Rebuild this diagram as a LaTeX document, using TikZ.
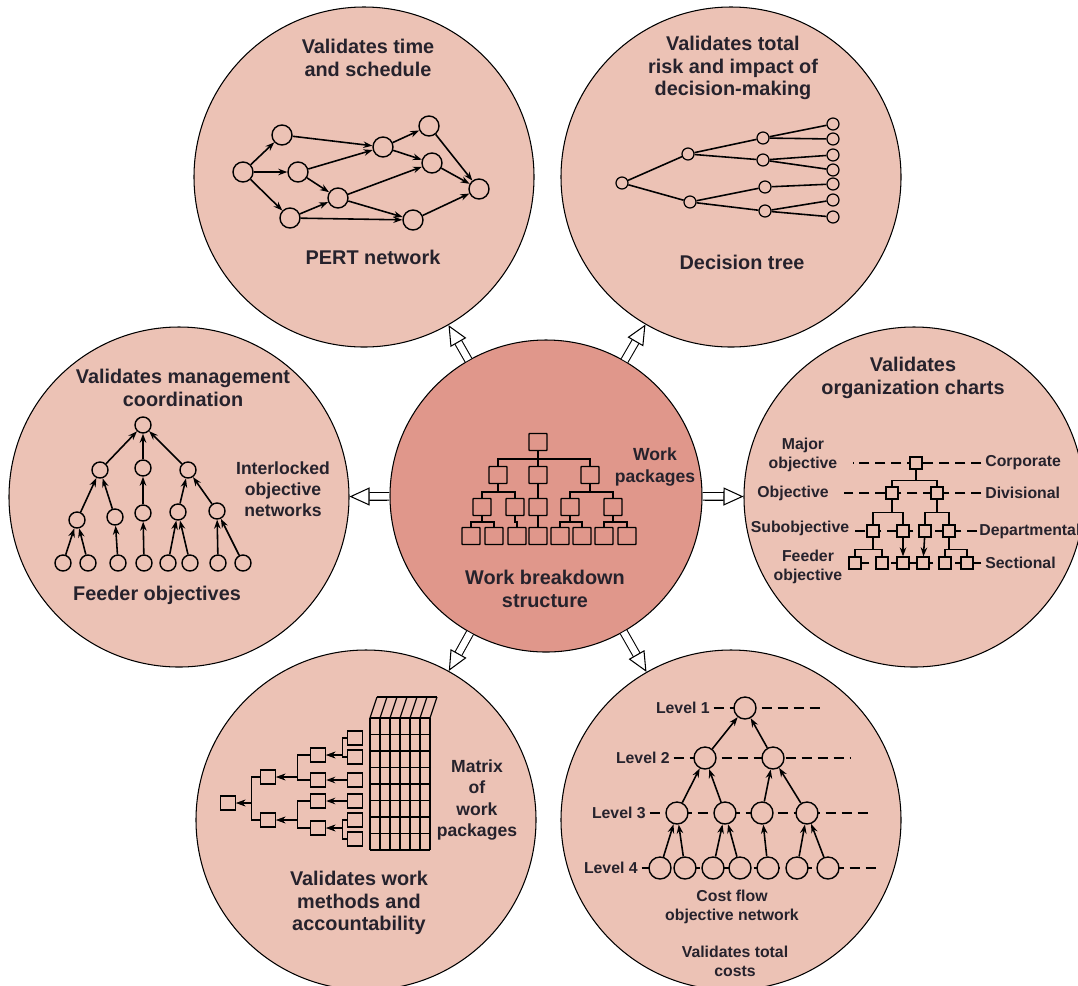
\documentclass[tikz,border=0pt]{standalone}
\usepackage{fontspec}
\setmainfont{Liberation Sans}
\usepackage{xcolor}
\usepackage{tikz}
\usetikzlibrary{arrows.meta,positioning,calc}

\definecolor{bubble}{RGB}{236,194,181}
\definecolor{wbscol}{RGB}{224,151,139}
\definecolor{ink}{RGB}{38,34,44}

\tikzset{
  bub/.style={circle, draw, line width=0.6pt, fill=bubble, minimum size=68mm, inner sep=0pt},
  ttl/.style={align=center, text=ink, inner sep=0pt, font=\bfseries\fontsize{11.3}{12.8}\selectfont},
  mid/.style={align=center, text=ink, inner sep=0pt, font=\bfseries\fontsize{10}{12}\selectfont},
  sml/.style={align=center, text=ink, inner sep=0pt, font=\bfseries\fontsize{9}{11}\selectfont},
  ln/.style={line width=0.9pt},
  arr/.style={line width=0.9pt, -{Stealth[length=1.8mm, width=1.3mm]}},
  lvl/.style={line width=0.8pt, dash pattern=on 2mm off 1.2mm},
  hollow/.style={double=white, double distance=1.3mm, line width=0.6pt, -{Triangle[open, length=4mm, width=3.6mm]}},
  pn/.style={circle, draw, line width=0.8pt, fill=bubble, minimum size=4mm, inner sep=0pt},
  dn/.style={circle, draw, line width=0.7pt, fill=bubble, minimum size=2.4mm, inner sep=0pt},
  mn/.style={circle, draw, line width=0.8pt, fill=bubble, minimum size=3.2mm, inner sep=0pt},
  cn/.style={circle, draw, line width=0.8pt, fill=bubble, minimum size=4.4mm, inner sep=0pt},
  wb/.style={rectangle, rounded corners=0.4pt, draw, line width=0.8pt, fill=wbscol, minimum width=3.6mm, minimum height=3.4mm, inner sep=0pt},
  ob/.style={rectangle, draw, line width=0.7pt, fill=bubble, minimum size=2.4mm, inner sep=0pt},
  xb/.style={rectangle, draw, line width=0.8pt, fill=bubble, minimum width=3mm, minimum height=2.8mm, inner sep=0pt}
}

\begin{document}
\begin{tikzpicture}[x=0.2mm, y=-0.2mm]
\useasboundingbox (0,0) rectangle (1078,985);
\fill[white] (0,0) rectangle (1078,985);

% the seven circles
\node[bub, fill=wbscol, minimum size=62.4mm] (wbs) at (546,496) {};
\node[bub] (pert) at (364,177) {};
\node[bub] (dtree) at (731,177) {};
\node[bub] (mgmt) at (179,497) {};
\node[bub] (org) at (914,497) {};
\node[bub] (wpm) at (366,820) {};
\node[bub] (cost) at (731,820) {};

\foreach \t in {pert,dtree,mgmt,org,wpm,cost}
  \draw[hollow] (wbs) -- (\t);

% PERT network
\node[ttl] (pertT) at (368,58) {Validates time\\and schedule};
\foreach \n/\px/\py in {a/243/172, b/282/135, c/298/172, d/290/218, e/338/198,
    f/383/147, g/429/126, h/432/163, i/413/220, j/479/189}
  \node[pn] (p\n) at (\px,\py) {};
\foreach \s/\t in {a/b, a/c, a/d, b/f, c/f, c/e, d/e, d/i, e/h, e/i, f/g, f/h, g/j, h/j, i/j}
  \draw[arr] (p\s) -- (p\t);
\node[ttl] (pertC) at (373,257) {PERT network};

% decision tree
\node[ttl] (dtreeT) at (733,68) {Validates total\\risk and impact of\\decision-making};
\foreach \n/\px/\py in {r/622/183, a/688/154, b/690/202, aa/763/138, ab/763/160, ba/765/187, bb/765/211}
  \node[dn] (d\n) at (\px,\py) {};
\foreach \i/\py in {1/124, 2/139, 3/155, 4/170, 5/184, 6/200, 7/217}
  \node[dn] (dl\i) at (833,\py) {};
\foreach \s/\t in {r/a, r/b, a/aa, a/ab, b/ba, b/bb, aa/l1, aa/l2, ab/l3, ab/l4, ba/l5, bb/l6, bb/l7}
  \draw[ln] (d\s) -- (d\t);
\node[ttl] (dtreeC) at (742,262) {Decision tree};

% management coordination
\node[ttl] (mgmtT) at (183,388) {Validates management\\coordination};
\foreach \n/\px/\py in {m0/143/425, m1/100/470, m2/143/468, m3/188/470, m11/77/520, m12/115/517,
    m21/143/513, m31/178/512, m32/217/511}
  \node[mn] (\n) at (\px,\py) {};
\foreach \i/\px in {1/63, 2/88, 3/118, 4/144, 5/168, 6/190, 7/218, 8/243}
  \node[mn] (f\i) at (\px,563) {};
\foreach \s/\t in {m1/m0, m2/m0, m3/m0, m11/m1, m12/m1, m21/m2, m31/m3, m32/m3,
    f1/m11, f2/m11, f3/m12, f4/m21, f5/m31, f6/m31, f7/m32, f8/m32}
  \draw[arr] (\s) -- (\t);
\node[mid] (mgmtN) at (283,489) {Interlocked\\objective\\networks};
\node[ttl] (mgmtC) at (157,595) {Feeder objectives};

% work breakdown structure
\foreach \n/\px/\py in {w0/538/442, w1/498/475, w2/538/475, w3/590/475, w11/482/507, w12/515/507,
    w21/538/507, w31/570/507, w32/613/507}
  \node[wb] (\n) at (\px,\py) {};
\foreach \i/\px in {1/471, 2/494, 3/517, 4/538, 5/560, 6/582, 7/604, 8/627}
  \node[wb] (k\i) at (\px,536) {};
\foreach \p/\c/\h in {w0/w1/8, w0/w2/8, w0/w3/8, w1/w11/7.5, w1/w12/7.5, w2/w21/7.5, w3/w31/7.5, w3/w32/7.5,
    w11/k1/6, w11/k2/6, w12/k3/6, w21/k4/6, w31/k5/6, w31/k6/6, w32/k7/6, w32/k8/6}
  \draw[ln] (\p.south) -- ++(0,\h) -| (\c.north);
\node[mid] (wbsN) at (655,467) {Work\\packages};
\node[ttl] (wbsT) at (545,589) {Work breakdown\\structure};

% organization charts
\node[ttl] (orgT) at (913,378) {Validates\\organization charts};
\node[sml] (majL) at (803,455) {Major\\objective};
\node[sml] (objL) at (793,493) {Objective};
\node[sml] (subL) at (800,528) {Subobjective};
\node[sml] (feedL) at (808,567) {Feeder\\objective};
\node[sml, anchor=west] (corpL) at (985,463) {Corporate};
\node[sml, anchor=west] (divL) at (985,493) {Divisional};
\node[sml, anchor=west] (depL) at (979,531) {Departmental};
\node[sml, anchor=west] (secL) at (985,563) {Sectional};
\draw[lvl, shorten <=2pt, shorten >=3mm] (corpL.west) -- (corpL.west -| majL.east);
\draw[lvl, shorten <=2pt, shorten >=3mm] (divL.west) -- (divL.west -| objL.east);
\draw[lvl, shorten <=1pt, shorten >=1pt] (depL.west) -- (depL.west -| subL.east);
\draw[lvl, shorten <=2pt, shorten >=1.5mm] (secL.west) -- (secL.west -| feedL.east);
\foreach \n/\px/\py in {o0/916/463, o1/892/493, o2/937/493, o11/873/531, o12/903/531, o21/925/531, o22/949/531}
  \node[ob] (\n) at (\px,\py) {};
\foreach \i/\px in {1/855, 2/882, 3/903, 4/923, 5/945, 6/967}
  \node[ob] (s\i) at (\px,563) {};
\foreach \p/\c/\h in {o0/o1/11, o0/o2/11, o1/o11/13, o1/o12/13, o2/o21/13, o2/o22/13,
    o11/s1/12, o11/s2/12, o22/s5/12, o22/s6/12}
  \draw[ln] (\p.south) -- ++(0,\h) -| (\c.north);
\draw[arr] (o12) -- (s3);
\draw[arr] (o21) -- (s4);

% matrix of work packages
\foreach \n/\px/\py in {x0/228/803, x1/268/777, x2/268/820, x11/318/755, x12/318/780, x21/318/801, x22/318/828}
  \node[xb] (\n) at (\px,\py) {};
\foreach \i/\py in {1/738, 2/757, 3/780, 4/801, 5/820, 6/839}
  \node[xb] (q\i) at (355,\py) {};
\foreach \c/\p/\h in {x1/x0/8.5, x2/x0/8.5, x11/x1/12.5, x12/x1/12.5, x21/x2/12.5, x22/x2/12.5,
    q1/x11/4.5, q2/x11/4.5, q3/x12/4.5, q4/x21/4.5, q5/x22/4.5, q6/x22/4.5}
  \draw[arr] (\c.west) -- ++(-\h,0) |- (\p.east);
\foreach \i in {0,...,6} {
  \draw[line width=0.7pt] (370+10*\i,718) -- (370+10*\i,850);
  \draw[line width=0.7pt] (370+10*\i,718) -- (377+10*\i,697);
}
\foreach \j in {0,...,8}
  \draw[line width=0.7pt] (370,718+16.5*\j) -- (430,718+16.5*\j);
\draw[line width=0.7pt] (377,697) -- (437,697);
\node[mid] (wpmN) at (477,800) {Matrix\\of\\work\\packages};
\node[ttl] (wpmT) at (359,903) {Validates work\\methods and\\accountability};

% cost flow objective network
\node[sml, anchor=east] (lv1) at (710,708) {Level 1};
\node[sml, anchor=east] (lv2) at (670,758) {Level 2};
\node[sml, anchor=east] (lv3) at (646,813) {Level 3};
\node[sml, anchor=east] (lv4) at (638,868) {Level 4};
\coordinate (e1) at (820,708);
\coordinate (e2) at (850,758);
\coordinate (e3) at (872,813);
\coordinate (e4) at (880,868);
\foreach \i in {1,...,4}
  \draw[lvl, shorten <=2pt] (lv\i) -- (e\i);
\foreach \n/\px/\py in {c0/745/708, c1/705/758, c2/773/758, c11/677/813, c12/725/813, c21/762/813, c22/807/813}
  \node[cn] (\n) at (\px,\py) {};
\foreach \i/\px in {1/660, 2/685, 3/713, 4/740, 5/768, 6/797, 7/828}
  \node[cn] (v\i) at (\px,868) {};
\foreach \s/\t in {c1/c0, c2/c0, c11/c1, c12/c1, c21/c2, c22/c2,
    v1/c11, v2/c11, v3/c12, v4/c12, v5/c21, v6/c22, v7/c22}
  \draw[arr] (\s) -- (\t);
\node[sml] (costN) at (732,907) {Cost flow\\objective network};
\node[sml] (costT) at (735,961) {Validates total\\costs};

\end{tikzpicture}
\end{document}
